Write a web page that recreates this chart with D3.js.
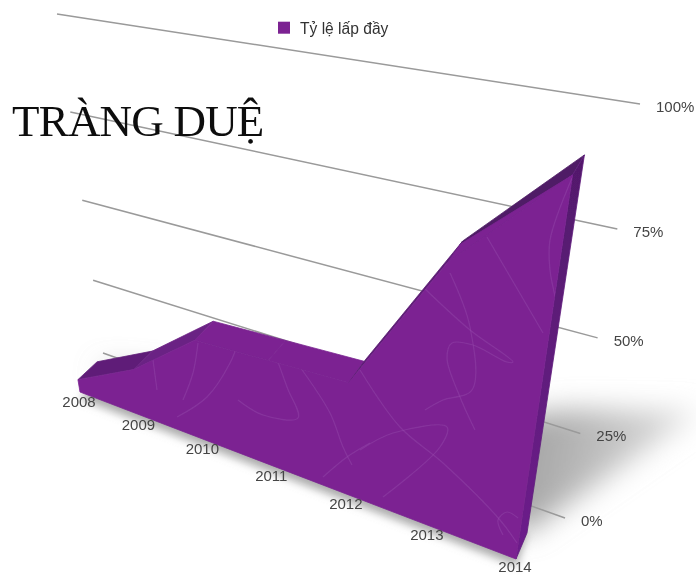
<!DOCTYPE html>
<html><head><meta charset="utf-8">
<script src="https://cdn.jsdelivr.net/npm/d3@7/dist/d3.min.js"></script>
<style>html,body{margin:0;padding:0;background:#fff;overflow:hidden}svg{display:block}</style>
</head><body><svg id="c" width="696" height="575"></svg>
<script>
// ---- data ----
const years = ["2008","2009","2010","2011","2012","2013","2014"];
const occupancy = [4,14,29,30,31,65,86];
const tickValues = [0,25,50,75,100];
const tickLabels = ["0%","25%","50%","75%","100%"];
const seriesName = "Tỷ lệ lấp đầy";
const titleText = "TRÀNG DUỆ";
// shade of the top surface of each segment between two years
const segmentShades = ["#5f1f78","#6b2184","#7b2492","#7b2492","#5d1c75","#4f1d66"];
// decorative fill pattern of the front face (artwork, not data)
const fabricTexture = [
 [[487,237],[515,285],[543,333]],
 [[423,287],[470,330],[513,362],[507,362],[473,345],[452,343],[447,358],[460,397],[475,430]],
 [[450,273],[470,327],[472,390],[443,400],[425,410]],
 [[360,450],[393,433],[447,427],[440,447],[383,497]],
 [[360,370],[400,427],[443,463],[500,520],[517,543]],
 [[503,535],[498,520],[507,512],[518,518]],
 [[572,178],[550,240],[550,270],[556,300]],
 [[238,400],[263,415],[298,418],[287,387],[270,340]],
 [[300,367],[330,413],[343,447],[352,465]],
 [[240,337],[230,363],[207,397],[177,417]],
 [[198,343],[193,373],[183,400]],
 [[153,360],[157,390]],
 [[323,477],[347,457],[370,443]]
];

// ---- scales into the unit chart plane ----
const xScale = d3.scalePoint().domain(years).range([0,1]);
const yScale = d3.scaleLinear().domain([0,100]).range([0,1]);

// ---- perspective planes: corners [0,0],[1,0],[1,1],[0,1] -> screen ----
function homography(c){
  const [[x0,y0],[x1,y1],[x2,y2],[x3,y3]]=c;
  const dx1=x1-x2,dx2=x3-x2,dx3=x0-x1+x2-x3,dy1=y1-y2,dy2=y3-y2,dy3=y0-y1+y2-y3;
  const den=dx1*dy2-dx2*dy1;
  const g=(dx3*dy2-dx2*dy3)/den,h=(dx1*dy3-dx3*dy1)/den;
  const a=x1-x0+g*x1,b=x3-x0+h*x3,d=y1-y0+g*y1,e=y3-y0+h*y3;
  return (u,v)=>{const w=g*u+h*v+1;return [(a*u+b*v+x0)/w,(d*u+e*v+y0)/w];};
}
const wall  = homography([[103,353],[565,518],[640,104],[57,14]]);
const front = homography([[80,392],[516,559],[585,90],[15,4]]);
const back  = homography([[99,374],[527,533],[597,72],[41,-7]]);

const svg=d3.select("#c");
const defs=svg.append("defs");
defs.append("filter").attr("id","shBlur").attr("x","-30%").attr("y","-30%").attr("width","160%").attr("height","160%")
  .append("feGaussianBlur").attr("stdDeviation",14);
defs.append("filter").attr("id","shEdge").attr("x","-10%").attr("y","-30%").attr("width","120%").attr("height","160%")
  .append("feGaussianBlur").attr("stdDeviation",4);
defs.append("filter").attr("id","soft").append("feGaussianBlur").attr("stdDeviation",0.45);
const shGrad=defs.append("linearGradient").attr("id","shGrad").attr("gradientUnits","userSpaceOnUse")
  .attr("x1",540).attr("y1",440).attr("x2",700).attr("y2",470);
shGrad.append("stop").attr("offset",0).attr("stop-color","#a8a8a8");
shGrad.append("stop").attr("offset",1).attr("stop-color","#e4e4e4");
const g=svg.append("g").attr("filter","url(#soft)");
const line=d3.line();

// ---- floor shadow ----
const castX=d3.scaleLinear().domain([0,100]).range([0,200]);
const castY=d3.scaleLinear().domain([0,100]).range([0,-141]);
const shadowPts=years.map((y,i)=>{const p=back(xScale(y),0);return [p[0]+castX(occupancy[i]),p[1]+castY(occupancy[i])];});
const basePts=years.map(y=>back(xScale(y),0)).reverse();
g.append("path").attr("d",line(shadowPts.concat(basePts))+"Z")
  .attr("fill","url(#shGrad)").attr("filter","url(#shBlur)");
const edgePts=years.map(y=>{const p=front(xScale(y),0);return [p[0]+1,p[1]+7];});
g.append("path").attr("d",line(edgePts.concat(years.map(y=>back(xScale(y),0)).reverse()))+"Z")
  .attr("fill","#aaa").attr("filter","url(#shEdge)");

// ---- wall grid ----
g.selectAll(".grid").data(tickValues).join("path").attr("class","grid")
  .attr("d",t=>line([wall(0,yScale(t)),wall(1,yScale(t))]))
  .attr("stroke","#9a9a9a").attr("stroke-width",1.5).attr("fill","none");

const sans="'Liberation Sans',Arial,sans-serif";
g.selectAll(".ylab").data(tickValues).join("text").attr("class","ylab")
  .attr("x",t=>wall(1,yScale(t))[0]+16).attr("y",t=>wall(1,yScale(t))[1]+8)
  .attr("font-family",sans).attr("font-size",15).attr("fill","#444")
  .text((t,i)=>tickLabels[i]);

// ---- extruded top surface + right side ----
const topFront=years.map((y,i)=>front(xScale(y),yScale(occupancy[i])));
const topBack=years.map((y,i)=>back(xScale(y),yScale(occupancy[i])));
g.selectAll(".topseg").data(segmentShades).join("path").attr("class","topseg")
  .attr("d",(s,i)=>line([topFront[i],topFront[i+1],topBack[i+1],topBack[i]])+"Z")
  .attr("fill",s=>s).attr("stroke",s=>s).attr("stroke-width",0.8);
const sideGrad=defs.append("linearGradient").attr("id","side").attr("x1",0).attr("y1",0).attr("x2",0).attr("y2",1);
sideGrad.append("stop").attr("offset",0).attr("stop-color","#52196b");
sideGrad.append("stop").attr("offset",1).attr("stop-color","#6d1f8c");
g.append("path").attr("d",line([front(1,0),back(1,0),topBack[6],topFront[6]])+"Z")
  .attr("fill","url(#side)").attr("stroke","#5f1c7c").attr("stroke-width",0.8);

// ---- front face ----
const faceColor="#7b2492";
const frontPts=[front(0,0),front(1,0)].concat(topFront.slice().reverse());
g.append("path").attr("d",line(frontPts)+"Z").attr("fill",faceColor).attr("stroke",faceColor).attr("stroke-width",0.8);
// the lit wedge that runs up from the 2013 corner
const k=0.85, n=years.length;
const lit=[topFront[n-2],[topFront[n-2][0]+k*(topBack[n-2][0]-topFront[n-2][0]),topFront[n-2][1]+k*(topBack[n-2][1]-topFront[n-2][1])],topFront[n-1]];
g.append("path").attr("d",line(lit)+"Z").attr("fill",faceColor).attr("stroke",faceColor).attr("stroke-width",0.8);

// ---- fabric pattern, clipped to the face ----
const clip=defs.append("clipPath").attr("id","faceClip");
clip.append("path").attr("d",line(frontPts)+"Z");
clip.append("path").attr("d",line(lit)+"Z");
const curve=d3.line().curve(d3.curveCatmullRom);
g.append("g").attr("clip-path","url(#faceClip)").selectAll("path").data(fabricTexture).join("path")
  .attr("d",d=>curve(d)).attr("fill","none").attr("stroke","#9a4cb0").attr("stroke-opacity",0.4).attr("stroke-width",1.2);

// ---- years ----
g.selectAll(".xlab").data(years).join("text").attr("class","xlab")
  .attr("x",y=>front(xScale(y),0)[0]-1).attr("y",y=>Math.min(front(xScale(y),0)[1]+15,571.5))
  .attr("text-anchor","middle").attr("font-family",sans).attr("font-size",15).attr("fill","#444")
  .text(y=>y);

// ---- legend and title ----
g.append("rect").attr("x",278).attr("y",21.7).attr("width",12).attr("height",12).attr("fill",faceColor);
g.append("text").attr("x",300).attr("y",34).attr("font-family",sans).attr("font-size",15.6).attr("fill","#333").text(seriesName);
g.append("text").attr("x",12).attr("y",136).attr("font-family","'Liberation Serif',serif").attr("font-size",45).attr("letter-spacing",-0.8).attr("fill","#111").text(titleText);
</script></body></html>
